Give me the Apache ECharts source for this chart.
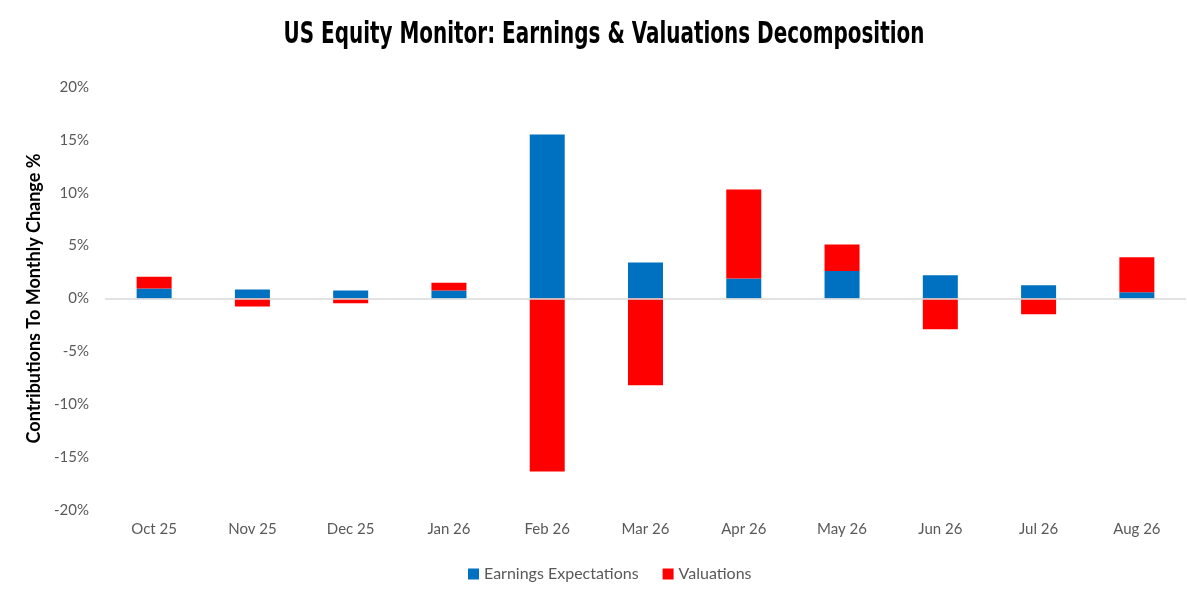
<!DOCTYPE html>
<html>
  <head>
    <meta charset="UTF-8" />
    <title>US Equity Monitor</title>
    <style>
      html, body { margin: 0; padding: 0; background: #fff; }
      #chart { width: 1187px; height: 592px; }
    </style>
    <script src="https://cdn.jsdelivr.net/npm/echarts@6/dist/echarts.min.js"></script>
  </head>
  <body>
    <div id="chart"></div>
    <script>
      const months = ["Oct 25", "Nov 25", "Dec 25", "Jan 26", "Feb 26", "Mar 26", "Apr 26", "May 26", "Jun 26", "Jul 26", "Aug 26"];
      const earnings = [0.95, 0.85, 0.75, 0.75, 15.5, 3.4, 1.9, 2.6, 2.2, 1.25, 0.6];
      const valuations = [1.1, -0.75, -0.45, 0.75, -16.35, -8.2, 8.4, 2.5, -2.9, -1.5, 3.3];

      const titleText = "US Equity Monitor: Earnings & Valuations Decomposition";
      const titleFont = "bold 30px 'DejaVu Sans Condensed', 'DejaVu Sans', sans-serif";

      // squeeze the title to the narrow width of the original display font
      const ctx = document.createElement("canvas").getContext("2d");
      ctx.font = titleFont;
      const titleScale = 641 / ctx.measureText(titleText).width;

      const chart = echarts.init(document.getElementById("chart"));

      chart.setOption({
        animation: false,
        graphic: [
          {
            type: "text",
            x: 604,
            y: 35,
            scaleX: titleScale,
            style: {
              text: titleText,
              font: titleFont,
              fill: "#000",
              align: "center",
              verticalAlign: "middle"
            }
          }
        ],
        legend: {
          bottom: 5,
          left: 463,
          itemWidth: 11,
          itemHeight: 11,
          itemGap: 24,
          icon: "rect",
          textStyle: { fontFamily: "Lato", fontSize: 16, color: "#595959" }
        },
        grid: { left: 105, right: 1, top: 87, bottom: 82 },
        xAxis: {
          type: "category",
          data: months,
          axisLine: { show: false },
          axisTick: { show: false },
          axisLabel: { fontFamily: "Lato", fontSize: 15, color: "#595959", margin: 12 }
        },
        yAxis: {
          type: "value",
          min: -20,
          max: 20,
          interval: 5,
          name: "Contributions To Monthly Change %",
          nameLocation: "middle",
          nameGap: 62,
          nameTextStyle: { fontFamily: "Lato", fontWeight: "bold", fontSize: 18, color: "#000" },
          axisLabel: {
            fontFamily: "Lato",
            fontSize: 15,
            color: "#595959",
            margin: 16,
            formatter: (v) => v + "%"
          },
          splitLine: { show: false },
          axisLine: { show: false },
          axisTick: { show: false }
        },
        series: [
          {
            name: "Earnings Expectations",
            type: "bar",
            stack: "total",
            barWidth: 35,
            data: earnings,
            itemStyle: { color: "#0070c0" },
            markLine: {
              silent: true,
              symbol: "none",
              label: { show: false },
              lineStyle: { color: "#d9d9d9", type: "solid", width: 1.5 },
              data: [{ yAxis: 0 }]
            }
          },
          {
            name: "Valuations",
            type: "bar",
            stack: "total",
            barWidth: 35,
            data: valuations,
            itemStyle: { color: "#ff0000" }
          }
        ]
      });
    </script>
  </body>
</html>
